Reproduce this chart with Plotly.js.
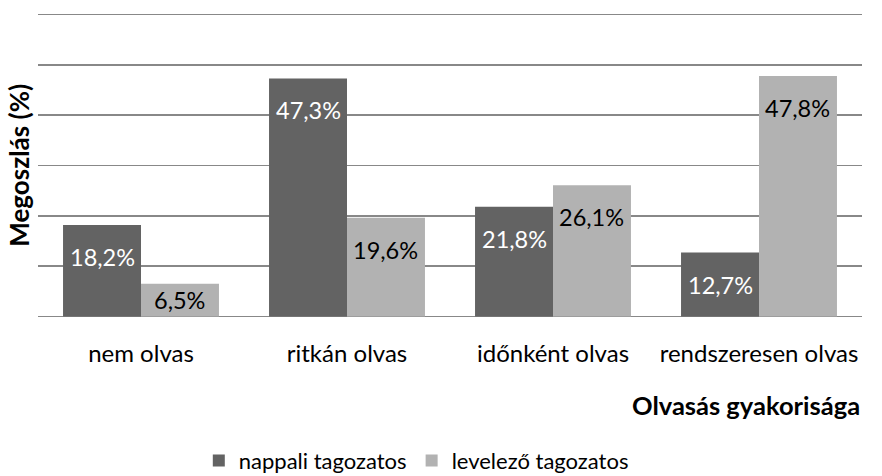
<!DOCTYPE html>
<html>
<head>
<meta charset="utf-8">
<script src="https://cdn.plot.ly/plotly-3.0.1.min.js"></script>
<style>html,body{margin:0;padding:0;background:#fff;}#chart{width:882px;height:476px;}</style>
</head>
<body>
<div id="chart"></div>
<script>
const categories = ["nem olvas", "ritkán olvas", "időnként olvas", "rendszeresen olvas"];
const seriesNames = ["nappali tagozatos", "levelező tagozatos"];
const nappali = [18.2, 47.3, 21.8, 12.7];
const levelezo = [6.5, 19.6, 26.1, 47.8];
const yTicks = [0, 10, 20, 30, 40, 50, 60];

const FONT = "Lato, 'Open Sans', sans-serif";
const DARK = "#636363", LIGHT = "#b2b2b2";
const bargap = 0.243;
const fmt = v => v.toFixed(1).replace(".", ",") + "%";

const traces = [
  {type: "bar", name: seriesNames[0], x: categories, y: nappali, marker: {color: DARK}, hoverinfo: "none"},
  {type: "bar", name: seriesNames[1], x: categories, y: levelezo, marker: {color: LIGHT}, hoverinfo: "none"}
];

const annotations = [];
const half = (1 - bargap) / 4;
[[nappali, -half, "#ffffff"], [levelezo, half, "#000000"]].forEach(([vals, off, col]) => {
  vals.forEach((v, i) => {
    annotations.push({
      x: i + off, y: v, xref: "x", yref: "y", text: fmt(v), showarrow: false,
      yanchor: "top", yshift: v > 10 ? -16 : 0,
      font: {family: FONT, size: 23.5, color: col}
    });
  });
});
annotations.push({
  xref: "paper", yref: "paper", x: -0.024, y: 0.5, textangle: -90, showarrow: false,
  text: "<b>Megoszlás (%)</b>", xanchor: "center", yanchor: "middle",
  font: {family: FONT, size: 26, color: "#000"}
});
annotations.push({
  xref: "paper", yref: "paper", x: 1, y: 0, xanchor: "right", yanchor: "middle", yshift: -86,
  showarrow: false, text: "<b>Olvasás gyakorisága</b>",
  font: {family: FONT, size: 25.5, color: "#000"}
});

const layout = {
  width: 882, height: 476,
  margin: {l: 38, r: 20, t: 12, b: 157},
  paper_bgcolor: "#fff", plot_bgcolor: "#fff",
  barmode: "group", bargap: bargap, bargroupgap: 0,
  font: {family: FONT, size: 20, color: "#000"},
  xaxis: {type: "category", showgrid: false, showline: false, zeroline: false, ticks: "", automargin: false,
          ticklabelstandoff: 18, tickfont: {family: FONT, size: 24, color: "#000"}, fixedrange: true},
  yaxis: {range: [-0.5, 60.5], tickvals: yTicks, showticklabels: false, showgrid: true, automargin: false,
          gridcolor: "#888888", gridwidth: 1.5, zeroline: false, showline: false, ticks: "", fixedrange: true},
  showlegend: true,
  legend: {orientation: "h", xref: "container", yref: "container", x: 0.472, xanchor: "center", y: 0.032, yanchor: "middle",
           font: {family: FONT, size: 22, color: "#000"}, itemwidth: 30, traceorder: "normal"},
  annotations: annotations
};

Plotly.newPlot("chart", traces, layout, {displayModeBar: false, staticPlot: true});
</script>
</body>
</html>
